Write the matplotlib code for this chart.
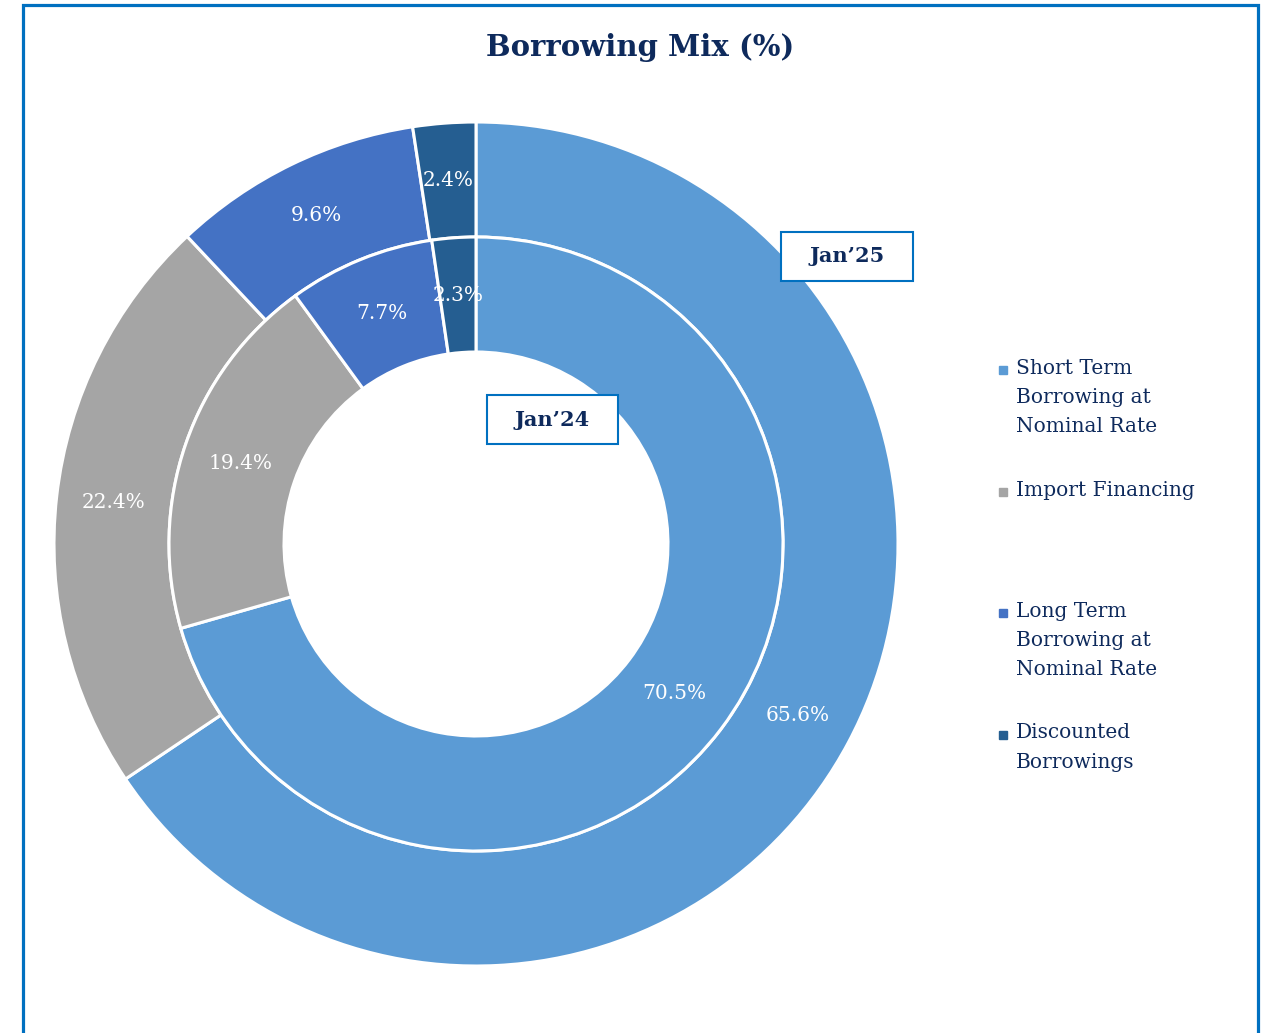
import matplotlib.pyplot as plt
from matplotlib.patches import Rectangle

# data
categories = ['Short Term\nBorrowing at\nNominal Rate', 'Import Financing',
              'Long Term\nBorrowing at\nNominal Rate', 'Discounted\nBorrowings']
jan25 = [65.6, 22.4, 9.6, 2.4]
jan24 = [70.5, 19.4, 7.7, 2.3]
colors = ['#5B9BD5', '#A5A5A5', '#4472C4', '#255E91']

navy = '#0E2A5C'
frame_blue = '#0070C0'
W, H = 1261, 1033

plt.rcParams['font.family'] = ['DejaVu Serif']

fig = plt.figure(figsize=(W / 100, H / 100), dpi=100)
ax = fig.add_axes([0, 0, 1, 1])

cx, cy = 476, H - 544
wedge = dict(edgecolor='white', linewidth=2.2)
txt = dict(color='white', fontsize=14.5)


def pct_from(values):
    # show the published value, not the renormalised share
    it = iter(values)
    return lambda p: f'{next(it):.1f}%'


# outer ring: Jan'25
ax.pie(jan25, colors=colors, radius=422, center=(cx, cy), startangle=90,
       counterclock=False, wedgeprops=dict(width=422 - 307, **wedge),
       autopct=pct_from(jan25), pctdistance=0.865, textprops=txt, frame=True)
# inner ring: Jan'24
ax.pie(jan24, colors=colors, radius=307, center=(cx, cy), startangle=90,
       counterclock=False, wedgeprops=dict(width=307 - 192, **wedge),
       autopct=pct_from(jan24), pctdistance=0.81, textprops=txt, frame=True)
ax.set_xlim(0, W)
ax.set_ylim(0, H)
ax.set_aspect('equal')
ax.axis('off')

# ring labels in boxes
for label, (x0, y0, x1, y1) in [('Jan\u201925', (781, 232, 913, 281)),
                                 ('Jan\u201924', (487, 395, 618, 444))]:
    ax.add_patch(Rectangle((x0, H - y1), x1 - x0, y1 - y0, facecolor='white',
                           edgecolor=frame_blue, linewidth=1.5, zorder=5))
    ax.text((x0 + x1) / 2, H - (y0 + y1) / 2, label, ha='center', va='center',
            fontsize=15, fontweight='bold', color=navy, zorder=6)

# legend
for i, (cat, col) in enumerate(zip(categories, colors)):
    y = 370 + i * 121.5
    ax.plot(1003, H - y, marker='s', markersize=5.5, color=col, linestyle='none')
    ax.text(1016, H - y + 11, cat, ha='left', va='top', fontsize=14.5,
            color=navy, linespacing=1.68)

# title
ax.text(640, H - 47, 'Borrowing Mix (%)', ha='center', va='center',
        fontsize=21, fontweight='bold', color=navy)

# frame
ax.plot([23, 23, 1258, 1258], [0, H - 5, H - 5, 0], color=frame_blue,
        linewidth=2.3, solid_joinstyle='miter', clip_on=False)

fig.savefig('out.png', dpi=100)
